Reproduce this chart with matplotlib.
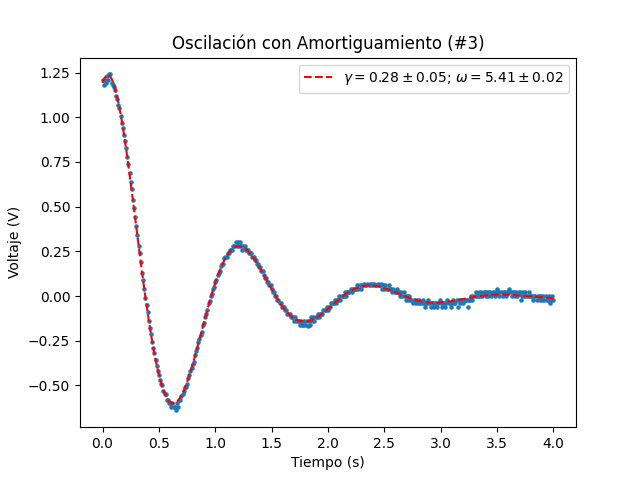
import matplotlib
matplotlib.use('Agg')
import matplotlib.pyplot as plt
import numpy as np

# Datos medidos (V), muestreados cada 0.01 s desde 0 hasta 4 s
paso = 0.01
voltaje = [
    1.21, 1.18, 1.21, 1.19, 1.23, 1.21, 1.24, 1.24, 1.19, 1.18,
    1.17, 1.15, 1.12, 1.10, 1.07, 1.05, 1.01, 0.97, 0.94, 0.90,
    0.87, 0.83, 0.78, 0.74, 0.69, 0.64, 0.60, 0.54, 0.49, 0.44,
    0.39, 0.34, 0.28, 0.24, 0.19, 0.13, 0.09, 0.04, -0.01, -0.05,
    -0.09, -0.14, -0.18, -0.21, -0.26, -0.29, -0.32, -0.36, -0.39, -0.42,
    -0.44, -0.47, -0.49, -0.50, -0.53, -0.55, -0.55, -0.58, -0.58, -0.60,
    -0.60, -0.62, -0.60, -0.62, -0.62, -0.64, -0.60, -0.62, -0.58, -0.58,
    -0.56, -0.55, -0.53, -0.51, -0.51, -0.49, -0.46, -0.44, -0.42, -0.40,
    -0.38, -0.37, -0.33, -0.31, -0.29, -0.26, -0.24, -0.22, -0.20, -0.16,
    -0.15, -0.12, -0.10, -0.08, -0.04, -0.03, 0.00, 0.01, 0.04, 0.05,
    0.08, 0.09, 0.12, 0.13, 0.14, 0.17, 0.18, 0.18, 0.21, 0.22,
    0.22, 0.24, 0.24, 0.26, 0.26, 0.26, 0.28, 0.28, 0.30, 0.28,
    0.30, 0.28, 0.30, 0.28, 0.26, 0.28, 0.28, 0.26, 0.26, 0.26,
    0.24, 0.24, 0.24, 0.22, 0.22, 0.20, 0.20, 0.18, 0.18, 0.16,
    0.16, 0.14, 0.14, 0.12, 0.10, 0.10, 0.08, 0.08, 0.06, 0.06,
    0.04, 0.02, 0.02, 0.00, 0.00, -0.02, -0.02, -0.04, -0.04, -0.06,
    -0.06, -0.06, -0.08, -0.08, -0.10, -0.10, -0.10, -0.12, -0.12, -0.12,
    -0.14, -0.12, -0.14, -0.14, -0.14, -0.16, -0.14, -0.16, -0.16, -0.14,
    -0.16, -0.14, -0.17, -0.14, -0.16, -0.12, -0.14, -0.12, -0.14, -0.12,
    -0.12, -0.10, -0.12, -0.10, -0.10, -0.10, -0.08, -0.08, -0.08, -0.06,
    -0.08, -0.06, -0.06, -0.04, -0.04, -0.04, -0.02, -0.04, -0.02, -0.02,
    0.00, -0.02, 0.00, 0.00, 0.00, 0.02, 0.00, 0.02, 0.02, 0.02,
    0.04, 0.02, 0.04, 0.04, 0.04, 0.04, 0.06, 0.04, 0.06, 0.04,
    0.06, 0.06, 0.07, 0.06, 0.06, 0.07, 0.06, 0.07, 0.06, 0.07,
    0.06, 0.07, 0.06, 0.06, 0.07, 0.06, 0.06, 0.07, 0.04, 0.06,
    0.04, 0.06, 0.04, 0.04, 0.06, 0.04, 0.04, 0.02, 0.04, 0.02,
    0.02, 0.04, 0.02, 0.02, 0.00, 0.02, 0.00, 0.02, 0.00, -0.02,
    0.00, -0.02, 0.00, -0.02, -0.02, -0.04, -0.02, -0.02, -0.04, -0.02,
    -0.04, -0.02, -0.04, -0.04, -0.02, -0.04, -0.06, -0.04, -0.04, -0.02,
    -0.04, -0.06, -0.04, -0.04, -0.06, -0.04, -0.04, -0.06, -0.04, -0.02,
    -0.04, -0.06, -0.04, -0.04, -0.06, -0.04, -0.02, -0.04, -0.04, -0.06,
    -0.04, -0.02, -0.04, -0.04, -0.02, -0.06, -0.02, -0.04, -0.02, -0.02,
    -0.04, -0.02, -0.02, -0.02, -0.06, -0.02, -0.02, 0.00, -0.02, 0.00,
    0.00, 0.02, 0.00, 0.00, 0.02, 0.00, 0.02, 0.00, 0.02, 0.02,
    0.00, 0.02, 0.00, 0.02, 0.02, 0.00, 0.02, 0.02, 0.00, 0.02,
    0.04, 0.02, 0.00, 0.02, 0.02, 0.00, 0.02, 0.02, 0.00, 0.02,
    0.02, 0.04, 0.02, 0.00, 0.02, 0.02, 0.00, 0.02, 0.00, 0.02,
    0.02, -0.02, 0.00, 0.02, 0.00, 0.02, 0.00, 0.00, 0.02, 0.00,
    0.00, 0.00, -0.02, 0.00, 0.00, -0.02, 0.00, 0.00, -0.02, 0.00,
    -0.02, 0.00, -0.02, 0.00, -0.02, -0.02, 0.00, -0.04, -0.02, 0.00,
    -0.02,
]
voltaje = np.array(voltaje)
tiempo = np.arange(len(voltaje)) * paso

# Ajuste: V = exp(-k t) (a cos(w t) + b sin(w t)) + c
k_dec = 1.27
w = 5.41
env = np.exp(-k_dec * tiempo)
M = np.column_stack([env * np.cos(w * tiempo), env * np.sin(w * tiempo), np.ones_like(tiempo)])
coef, *_ = np.linalg.lstsq(M, voltaje, rcond=None)
ajuste = M @ coef

etiqueta = r'$\gamma = 0.28 \pm 0.05$; $\omega = 5.41 \pm 0.02$'

plt.figure(figsize=(6.4, 4.8), dpi=100)
plt.scatter(tiempo, voltaje, s=5, color='C0')
plt.plot(tiempo, ajuste, '--', color='red', label=etiqueta)

plt.title('Oscilación con Amortiguamiento (#3)')
plt.xlabel('Tiempo (s)')
plt.ylabel('Voltaje (V)')
plt.legend(loc='upper right')

plt.savefig('out.png')
